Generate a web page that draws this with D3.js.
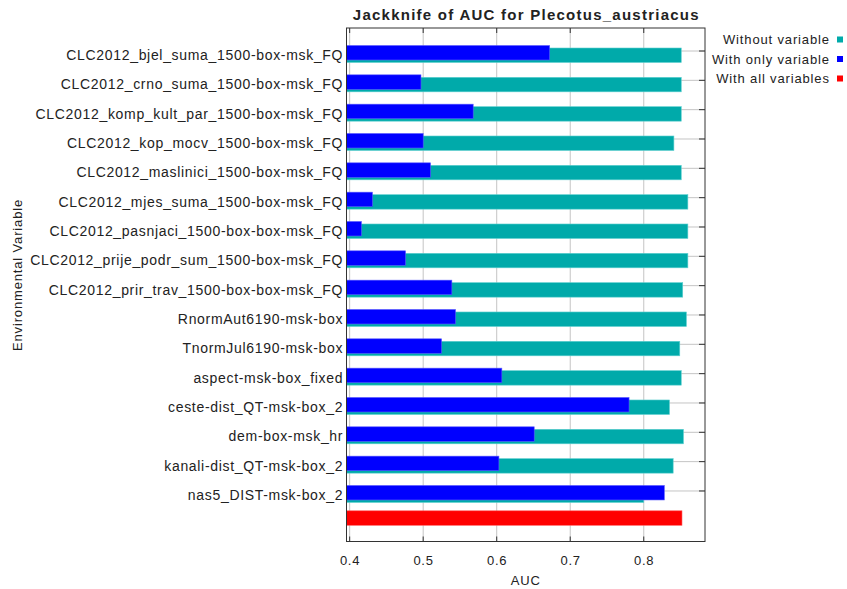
<!DOCTYPE html>
<html>
<head>
<meta charset="utf-8">
<script src="https://cdn.jsdelivr.net/npm/d3@7"></script>
<style>
  html, body { margin: 0; padding: 0; background: #ffffff; }
  svg { display: block; }
  text { font-family: "Liberation Sans", Arial, sans-serif; fill: #222; }
</style>
</head>
<body>
<svg id="chart" width="847" height="589"></svg>
<script>
// ---- data ----
const variables = [
  "CLC2012_bjel_suma_1500-box-msk_FQ",
  "CLC2012_crno_suma_1500-box-msk_FQ",
  "CLC2012_komp_kult_par_1500-box-msk_FQ",
  "CLC2012_kop_mocv_1500-box-msk_FQ",
  "CLC2012_maslinici_1500-box-msk_FQ",
  "CLC2012_mjes_suma_1500-box-msk_FQ",
  "CLC2012_pasnjaci_1500-box-box-msk_FQ",
  "CLC2012_prije_podr_sum_1500-box-msk_FQ",
  "CLC2012_prir_trav_1500-box-box-msk_FQ",
  "RnormAut6190-msk-box",
  "TnormJul6190-msk-box",
  "aspect-msk-box_fixed",
  "ceste-dist_QT-msk-box_2",
  "dem-box-msk_hr",
  "kanali-dist_QT-msk-box_2",
  "nas5_DIST-msk-box_2"
];
const withoutVariable = [0.851, 0.851, 0.851, 0.841, 0.851, 0.860, 0.860, 0.860, 0.853, 0.858, 0.849, 0.851, 0.835, 0.854, 0.840, 0.800];
const withOnlyVariable = [0.672, 0.497, 0.568, 0.500, 0.510, 0.431, 0.416, 0.476, 0.539, 0.544, 0.525, 0.607, 0.780, 0.651, 0.603, 0.828];
const withAllVariables = 0.852;
const xTicks = [0.4, 0.5, 0.6, 0.7, 0.8];
const xDomain = [0.3957, 0.8833];
const legendLabels = ["Without variable", "With only variable", "With all variables"];
const colors = { without: "#00aaaa", only: "#0000ff", all: "#ff0000" };
const titleText = "Jackknife of AUC for Plecotus_austriacus";
const xLabel = "AUC";
const yLabel = "Environmental Variable";

// ---- layout ----
const svg = d3.select("#chart");
const plot = { left: 346.5, right: 705, top: 28, bottom: 541.5 };
const rows = variables.concat(["__all__"]);

const x = d3.scaleLinear().domain(xDomain).range([plot.left, plot.right]);
const y = d3.scalePoint().domain(rows).range([plot.top + 23, plot.bottom - 21.2]);

// grid
const grid = svg.append("g");
grid.selectAll("line.vg").data(xTicks).join("line")
  .attr("x1", d => x(d)).attr("x2", d => x(d))
  .attr("y1", plot.top).attr("y2", plot.bottom)
  .attr("stroke", "#c4c4c4").attr("stroke-width", 1);
grid.selectAll("line.hg").data(variables).join("line")
  .attr("x1", plot.left).attr("x2", plot.right)
  .attr("y1", d => y(d)).attr("y2", d => y(d))
  .attr("stroke", "#c4c4c4").attr("stroke-width", 1);

// bars
const bars = svg.append("g");
bars.selectAll("rect.without").data(variables).join("rect")
  .attr("x", x(xDomain[0]))
  .attr("y", d => y(d) - 3)
  .attr("width", (d, i) => x(withoutVariable[i]) - x(xDomain[0]))
  .attr("height", 14.5)
  .attr("fill", colors.without)
  .attr("stroke", "#5fd0d0").attr("stroke-width", 0.6);
bars.selectAll("rect.only").data(variables).join("rect")
  .attr("x", x(xDomain[0]))
  .attr("y", d => y(d) - 5.5)
  .attr("width", (d, i) => x(withOnlyVariable[i]) - x(xDomain[0]))
  .attr("height", 14.5)
  .attr("fill", colors.only)
  .attr("stroke", "#5a5aff").attr("stroke-width", 0.6);
bars.append("rect")
  .attr("x", x(xDomain[0]))
  .attr("y", y("__all__") - 9.5)
  .attr("width", x(withAllVariables) - x(xDomain[0]))
  .attr("height", 14.5)
  .attr("fill", colors.all)
  .attr("stroke", "#ff6060").attr("stroke-width", 0.6);

// frame
svg.append("rect")
  .attr("x", plot.left).attr("y", plot.top)
  .attr("width", plot.right - plot.left).attr("height", plot.bottom - plot.top)
  .attr("fill", "none").attr("stroke", "#333").attr("stroke-width", 1);

// ticks top & bottom & right
const tk = svg.append("g").attr("stroke", "#333").attr("stroke-width", 1);
tk.selectAll("line.tt").data(xTicks).join("line")
  .attr("x1", d => x(d)).attr("x2", d => x(d))
  .attr("y1", plot.top).attr("y2", plot.top + 5);
tk.selectAll("line.tb").data(xTicks).join("line")
  .attr("x1", d => x(d)).attr("x2", d => x(d))
  .attr("y1", plot.bottom).attr("y2", plot.bottom - 5);
tk.selectAll("line.tr").data(variables).join("line")
  .attr("x1", plot.right - 6).attr("x2", plot.right)
  .attr("y1", d => y(d)).attr("y2", d => y(d));

// x tick labels
svg.append("g").selectAll("text").data(xTicks).join("text")
  .attr("x", d => x(d) + 0.35).attr("y", 565)
  .attr("text-anchor", "middle")
  .style("font-size", "13px").style("letter-spacing", "0.7px")
  .text(d => d3.format(".1f")(d));

// category labels
svg.append("g").selectAll("text").data(variables).join("text")
  .attr("x", plot.left - 4 + 0.68).attr("y", d => y(d) + 9)
  .attr("text-anchor", "end")
  .style("font-size", "14px").style("letter-spacing", "0.68px")
  .text(d => d);

// title
svg.append("text")
  .attr("x", (plot.left + plot.right) / 2 + 0.6).attr("y", 20)
  .attr("text-anchor", "middle")
  .style("font-size", "15px").style("font-weight", "bold").style("letter-spacing", "1.25px")
  .text(titleText);

// axis titles
svg.append("text")
  .attr("x", (plot.left + plot.right) / 2).attr("y", 585)
  .attr("text-anchor", "middle")
  .style("font-size", "13px").style("letter-spacing", "0.8px")
  .text(xLabel);
svg.append("text")
  .attr("transform", "translate(22,275) rotate(-90)")
  .attr("text-anchor", "middle")
  .style("font-size", "13px").style("letter-spacing", "0.85px")
  .text(yLabel);

// legend
const legColors = [colors.without, colors.only, colors.all];
const leg = svg.append("g");
legendLabels.forEach((lab, i) => {
  const by = 44 + i * 19.5;
  leg.append("text")
    .attr("x", 829.8).attr("y", by)
    .attr("text-anchor", "end")
    .style("font-size", "13px").style("letter-spacing", "0.85px")
    .text(lab);
  leg.append("rect")
    .attr("x", 837).attr("y", by - 7.5)
    .attr("width", 6).attr("height", 6)
    .attr("fill", legColors[i]);
});
</script>
</body>
</html>
